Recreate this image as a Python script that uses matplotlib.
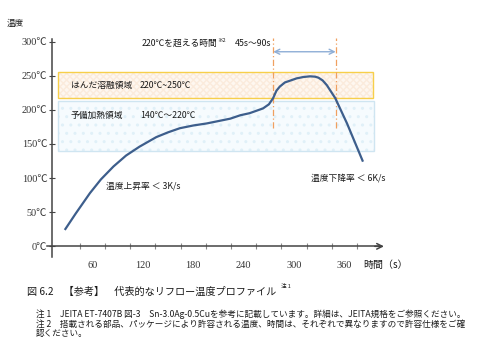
import matplotlib
matplotlib.use("Agg")
import matplotlib.pyplot as plt
from matplotlib.patches import Rectangle

JP = ['Noto Sans CJK JP', 'DejaVu Sans']
SERIF = ['Liberation Serif', 'Noto Sans CJK JP', 'DejaVu Sans']
plt.rcParams['font.family'] = JP

# ---- data ----
time_s = [27, 40, 57, 70, 85, 100, 116, 136, 150, 164, 180, 196, 224, 236, 247,
          263, 270, 275, 279, 283, 289, 296, 303, 311, 319, 325, 329, 334, 339,
          349, 363, 382]
temp_c = [24, 48, 78, 98, 117, 133, 146, 160, 167, 173, 177, 180, 187, 192, 195,
          202, 208, 217, 228, 234, 240, 243, 246, 248, 249, 248.5, 247, 243, 236,
          217, 180, 124]

y_ticks = [0, 50, 100, 150, 200, 250, 300]
y_tick_labels = [f"{v}℃" for v in y_ticks]
x_label_ticks = [60, 120, 180, 240, 300, 360]
x_mark_ticks = [45, 75, 105, 135, 165, 195, 225, 255, 285, 315, 345, 375]

melt_band = (217, 255)      # drawn box, label 220~250
preheat_band = (139, 213)   # drawn box, label 140~220
band_t = (18.6, 394)
over220 = (275.2, 349.5)

fig = plt.figure(figsize=(4.8, 3.6), dpi=100)
ax = fig.add_axes([0, 0, 1, 1])
ax.set_xlim(-50.1, 521.3)
ax.set_ylim(-166.5, 360.8)
ax.patch.set_alpha(0)

def P(x, y):
    return (x / 480.0, 1 - y / 360.0)

# bands
ax.add_patch(Rectangle((band_t[0], preheat_band[0]), band_t[1] + 1 - band_t[0],
                       preheat_band[1] - preheat_band[0], facecolor='#f6fbfe',
                       edgecolor='#e0f0f8', hatch='..', lw=0, zorder=1))
ax.add_patch(Rectangle((band_t[0], preheat_band[0]), band_t[1] + 1 - band_t[0],
                       preheat_band[1] - preheat_band[0], facecolor='none',
                       edgecolor='#cfe5f1', lw=1.0, zorder=2))
ax.add_patch(Rectangle((band_t[0], melt_band[0]), band_t[1] - band_t[0],
                       melt_band[1] - melt_band[0], facecolor='#fef7f0',
                       edgecolor='#fbebdc', hatch='xxxxx', lw=0, zorder=1))
ax.add_patch(Rectangle((band_t[0], melt_band[0]), band_t[1] - band_t[0],
                       melt_band[1] - melt_band[0], facecolor='none',
                       edgecolor='#f7cf4a', lw=1.0, zorder=2))

# dash-dot vertical lines and double arrow
for t in over220:
    ax.plot([t, t], [173, 305], color='#f0a060', lw=0.9, ls=(0, (5, 2, 1, 2)), zorder=3)
ax.annotate('', xy=(over220[1], 285), xytext=(over220[0], 285),
            arrowprops=dict(arrowstyle='<->', color='#8eaed6', lw=1.0,
                            mutation_scale=9, shrinkA=0, shrinkB=0), zorder=3)

# curve
ax.plot(time_s, temp_c, color='#3d5e8c', lw=1.6, zorder=4, solid_capstyle='butt',
        solid_joinstyle='round')

# axes
for s in ['top', 'right']:
    ax.spines[s].set_visible(False)
ax.spines['left'].set_position(('data', 12))
ax.spines['left'].set_bounds(-16, 303)
ax.spines['bottom'].set_position(('data', 0))
ax.spines['bottom'].set_bounds(6, 404)
for s in ['left', 'bottom']:
    ax.spines[s].set_color('#444444')
    ax.spines[s].set_linewidth(1.1)
ax.annotate('', xy=(407, 0), xytext=(396, 0),
            arrowprops=dict(arrowstyle='->', color='#444444', lw=1.1,
                            mutation_scale=10, shrinkA=0, shrinkB=0))

ax.set_yticks(y_ticks)
ax.set_yticklabels(y_tick_labels, fontfamily=SERIF, fontsize=7.4, color='#333333')
ax.tick_params(axis='y', direction='inout', length=5, width=0.8, color='#444444', pad=1)

ax.set_xticks(x_label_ticks)
ax.set_xticklabels([str(v) for v in x_label_ticks], fontfamily=SERIF, fontsize=7.4,
                   color='#333333')
ax.set_xticks(x_mark_ticks, minor=True)
ax.tick_params(axis='x', which='major', length=0, pad=10.5)
ax.tick_params(axis='x', which='minor', direction='inout', length=5, width=0.8,
               color='#8a8a8a')

# texts
tc = '#1a1a1a'
fig.text(*P(7, 23), '温度', fontsize=6.2, va='center', ha='left', color=tc)
fig.text(*P(363, 265), '時間（s）', fontsize=7.2, va='center', ha='left', color=tc)
fig.text(*P(141.7, 43), '220℃を超える時間', fontsize=6.3, va='center', ha='left', color=tc)
fig.text(*P(217, 40), '※2', fontsize=4, va='center', ha='left', color=tc)
fig.text(*P(235, 43), '45s～90s', fontsize=6.3, va='center', ha='left', color=tc)
fig.text(*P(71, 85), 'はんだ溶融領域', fontsize=6.3, va='center', ha='left', color=tc)
fig.text(*P(140, 85), '220℃~250℃', fontsize=6.3, va='center', ha='left', color=tc)
fig.text(*P(71, 115), '予備加熱領域', fontsize=6.3, va='center', ha='left', color=tc)
fig.text(*P(140, 115), '140℃～220℃', fontsize=6.3, va='center', ha='left', color=tc)
fig.text(*P(106, 186), '温度上昇率 ＜ 3K/s', fontsize=6.3, va='center', ha='left', color=tc)
fig.text(*P(311, 178), '温度下降率 ＜ 6K/s', fontsize=6.3, va='center', ha='left', color=tc)

fig.text(*P(27, 292), '図 6.2　【参考】　代表的なリフロー温度プロファイル', fontsize=7.3,
         va='center', ha='left', color=tc)
fig.text(*P(281, 287.5), '注 1', fontsize=4, va='center', ha='left', color=tc)
fig.text(*P(36, 314), '注 1　JEITA ET-7407B 図-3　Sn-3.0Ag-0.5Cuを参考に記載しています。詳細は、JEITA規格をご参照ください。',
         fontsize=6.2, va='center', ha='left', color=tc)
fig.text(*P(36, 324), '注 2　搭載される部品、パッケージにより許容される温度、時間は、それぞれで異なりますので許容仕様をご確',
         fontsize=6.2, va='center', ha='left', color=tc)
fig.text(*P(36, 333.5), '認ください。', fontsize=6.2, va='center', ha='left', color=tc)

fig.savefig('out.png', dpi=100)
